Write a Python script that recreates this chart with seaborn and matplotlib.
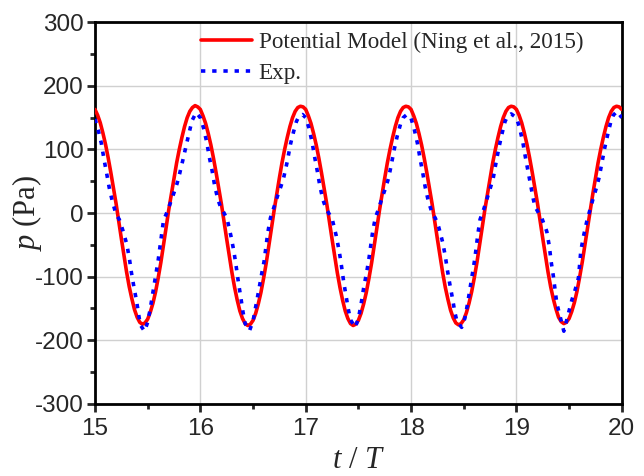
import numpy as np
import pandas as pd
import matplotlib
matplotlib.use("Agg")
import matplotlib.pyplot as plt
import seaborn as sns
from matplotlib.ticker import MultipleLocator

model_t = np.round(np.arange(15.0, 20.0001, 0.025), 3)
model_p = [
    163, 154, 142, 126, 108, 87, 64, 40, 15, -13, -40, -67, -93, -116, -135, -152, -164, -172, -175, -173, -167, -156, -142, -124, -102, -78, -51, -23, 5, 30, 55, 79, 100, 119, 136, 150, 160, 166, 169, 167,
    163, 153, 141, 125, 107, 86, 63, 39, 14, -14, -41, -68, -94, -117, -137, -154, -166, -174, -177, -175, -169, -158, -143, -125, -103, -79, -52, -24, 4, 30, 55, 79, 100, 119, 136, 150, 160, 166, 168, 167,
    163, 153, 141, 125, 107, 86, 63, 39, 14, -14, -41, -68, -94, -117, -137, -154, -166, -174, -177, -175, -169, -158, -143, -125, -103, -79, -52, -24, 4, 30, 55, 79, 100, 119, 136, 150, 160, 166, 168, 167,
    163, 153, 141, 125, 107, 86, 63, 39, 14, -14, -41, -68, -94, -117, -136, -153, -165, -173, -176, -174, -168, -157, -142, -124, -102, -78, -51, -23, 5, 30, 55, 79, 100, 119, 136, 150, 160, 166, 168, 167,
    163, 154, 142, 126, 108, 87, 64, 40, 15, -13, -40, -67, -93, -116, -135, -151, -164, -171, -174, -172, -166, -155, -141, -123, -101, -77, -50, -22, 5, 30, 55, 79, 100, 119, 136, 150, 160, 166, 168, 167,
    163,
]

# Experiment
exp_t = [
    15.000, 15.030, 15.060, 15.085, 15.110, 15.135, 15.165, 15.200, 15.230, 15.262, 15.300, 15.325,
    15.345, 15.370, 15.395, 15.415, 15.430, 15.470, 15.500, 15.525, 15.550, 15.575, 15.600, 15.630,
    15.650, 15.690, 15.720, 15.750, 15.780, 15.805, 15.835, 15.865, 15.895, 15.920, 15.960,
    16.000, 16.030, 16.060, 16.085, 16.110, 16.135, 16.165, 16.195, 16.225, 16.255, 16.290, 16.318,
    16.340, 16.362, 16.385, 16.405, 16.425, 16.467, 16.500, 16.525, 16.555, 16.585, 16.605, 16.640,
    16.665, 16.700, 16.735, 16.765, 16.790, 16.825, 16.855, 16.885, 16.912, 16.935, 16.970,
    17.000, 17.030, 17.060, 17.085, 17.110, 17.135, 17.165, 17.195, 17.225, 17.255, 17.290, 17.318,
    17.340, 17.362, 17.385, 17.405, 17.425, 17.470, 17.500, 17.525, 17.550, 17.580, 17.600, 17.635,
    17.660, 17.695, 17.725, 17.755, 17.785, 17.810, 17.840, 17.870, 17.900, 17.925, 17.960,
    18.000, 18.030, 18.060, 18.085, 18.110, 18.135, 18.165, 18.200, 18.230, 18.262, 18.300, 18.325,
    18.345, 18.370, 18.395, 18.415, 18.435, 18.480, 18.510, 18.535, 18.560, 18.585, 18.605, 18.635,
    18.655, 18.690, 18.720, 18.750, 18.780, 18.805, 18.835, 18.865, 18.892, 18.915, 18.950,
    19.000, 19.030, 19.060, 19.085, 19.110, 19.135, 19.160, 19.177, 19.210, 19.241, 19.288, 19.313,
    19.329, 19.351, 19.367, 19.383, 19.415, 19.450, 19.490, 19.526, 19.557, 19.589, 19.611, 19.636,
    19.668, 19.700, 19.730, 19.760, 19.785, 19.810, 19.840, 19.870, 19.898, 19.920, 19.955,
    20.000,
]
exp_p = [
    148, 131, 110, 85, 63, 40, 18, -2, -10, -26, -48, -70,
    -93, -117, -139, -160, -176, -186, -172, -150, -125, -100, -74, -36,
    -12, 4, 18, 32, 47, 63, 84, 106, 127, 145, 158,
    150, 134, 112, 88, 68, 44, 22, 8, 0, -10, -36, -60,
    -84, -110, -134, -156, -174, -185, -170, -148, -121, -93, -76, -31,
    -8, 10, 28, 42, 55, 81, 108, 128, 144, 152, 155,
    150, 134, 112, 88, 66, 42, 20, 6, -2, -12, -36, -60,
    -84, -110, -132, -152, -168, -180, -166, -144, -118, -92, -72, -30,
    -8, 8, 24, 38, 54, 74, 100, 122, 140, 150, 155,
    149, 132, 110, 86, 64, 40, 18, 0, -8, -22, -46, -68,
    -90, -114, -136, -156, -170, -180, -166, -144, -118, -92, -72, -32,
    -10, 6, 22, 38, 55, 78, 104, 126, 144, 152, 156,
    150, 134, 112, 88, 66, 44, 22, 10, 0, -8, -29, -53,
    -76, -100, -121, -142, -163, -186, -160, -137, -121, -102, -60, -37,
    -13, 6, 24, 40, 56, 78, 104, 126, 145, 154, 160,
    150,
]

model = pd.DataFrame({"t": model_t, "p": model_p})
exp = pd.DataFrame({"t": exp_t, "p": exp_p})

sns.set_style("ticks")
plt.rcParams["font.family"] = ["Liberation Sans", "DejaVu Sans"]
plt.rcParams["axes.unicode_minus"] = False
plt.rcParams["mathtext.fontset"] = "custom"
plt.rcParams["mathtext.rm"] = "Liberation Serif"
plt.rcParams["mathtext.it"] = "Liberation Serif:italic"

fig = plt.figure(figsize=(6.44, 4.76), dpi=100)
ax = fig.add_axes([0.1475, 0.152, 0.818, 0.801])

sns.lineplot(data=model, x="t", y="p", ax=ax, color="#ff0000", lw=2.6,
             sort=False, estimator=None, label="Potential Model (Ning et al., 2015)",
             zorder=3, solid_joinstyle="round")
sns.lineplot(data=exp, x="t", y="p", ax=ax, color="#0000ff", lw=2.6,
             linestyle=(0, (1.2, 1.9)), sort=False, estimator=None, label="Exp.", zorder=4)

ax.set_xlim(15, 20)
ax.set_ylim(-300, 300)
ax.xaxis.set_major_locator(MultipleLocator(1))
ax.xaxis.set_minor_locator(MultipleLocator(0.5))
ax.yaxis.set_major_locator(MultipleLocator(100))
ax.yaxis.set_minor_locator(MultipleLocator(50))
ax.grid(True, which="major", color="#d0d0d0", lw=1.0, zorder=0)
ax.set_axisbelow(True)

for s in ax.spines.values():
    s.set_linewidth(2.0)
    s.set_color("black")
ax.tick_params(which="major", direction="out", length=6, width=2, labelsize=17.5,
               top=False, right=False)
ax.tick_params(axis="x", which="major", pad=4)
ax.tick_params(axis="y", which="major", pad=2)
ax.tick_params(which="minor", direction="out", length=3.5, width=2, top=False, right=False)
for lab in ax.get_xticklabels() + ax.get_yticklabels():
    lab.set_fontfamily("Liberation Sans")

ax.set_xlabel(r"$t$ / $T$", fontfamily="Liberation Serif", fontsize=22)
ax.set_ylabel(r"$p$ (Pa)", fontfamily="Liberation Serif", fontsize=22)
ax.xaxis.set_label_coords(0.5, -0.112)
ax.yaxis.set_label_coords(-0.097, 0.5)

ax.legend(loc="upper left", bbox_to_anchor=(0.183, 1.0), frameon=False,
          prop={"family": "Liberation Serif", "size": 16.7}, handlelength=2.2,
          handletextpad=0.3, labelspacing=0.42, borderaxespad=0.0)

fig.savefig("out.png", dpi=100)
